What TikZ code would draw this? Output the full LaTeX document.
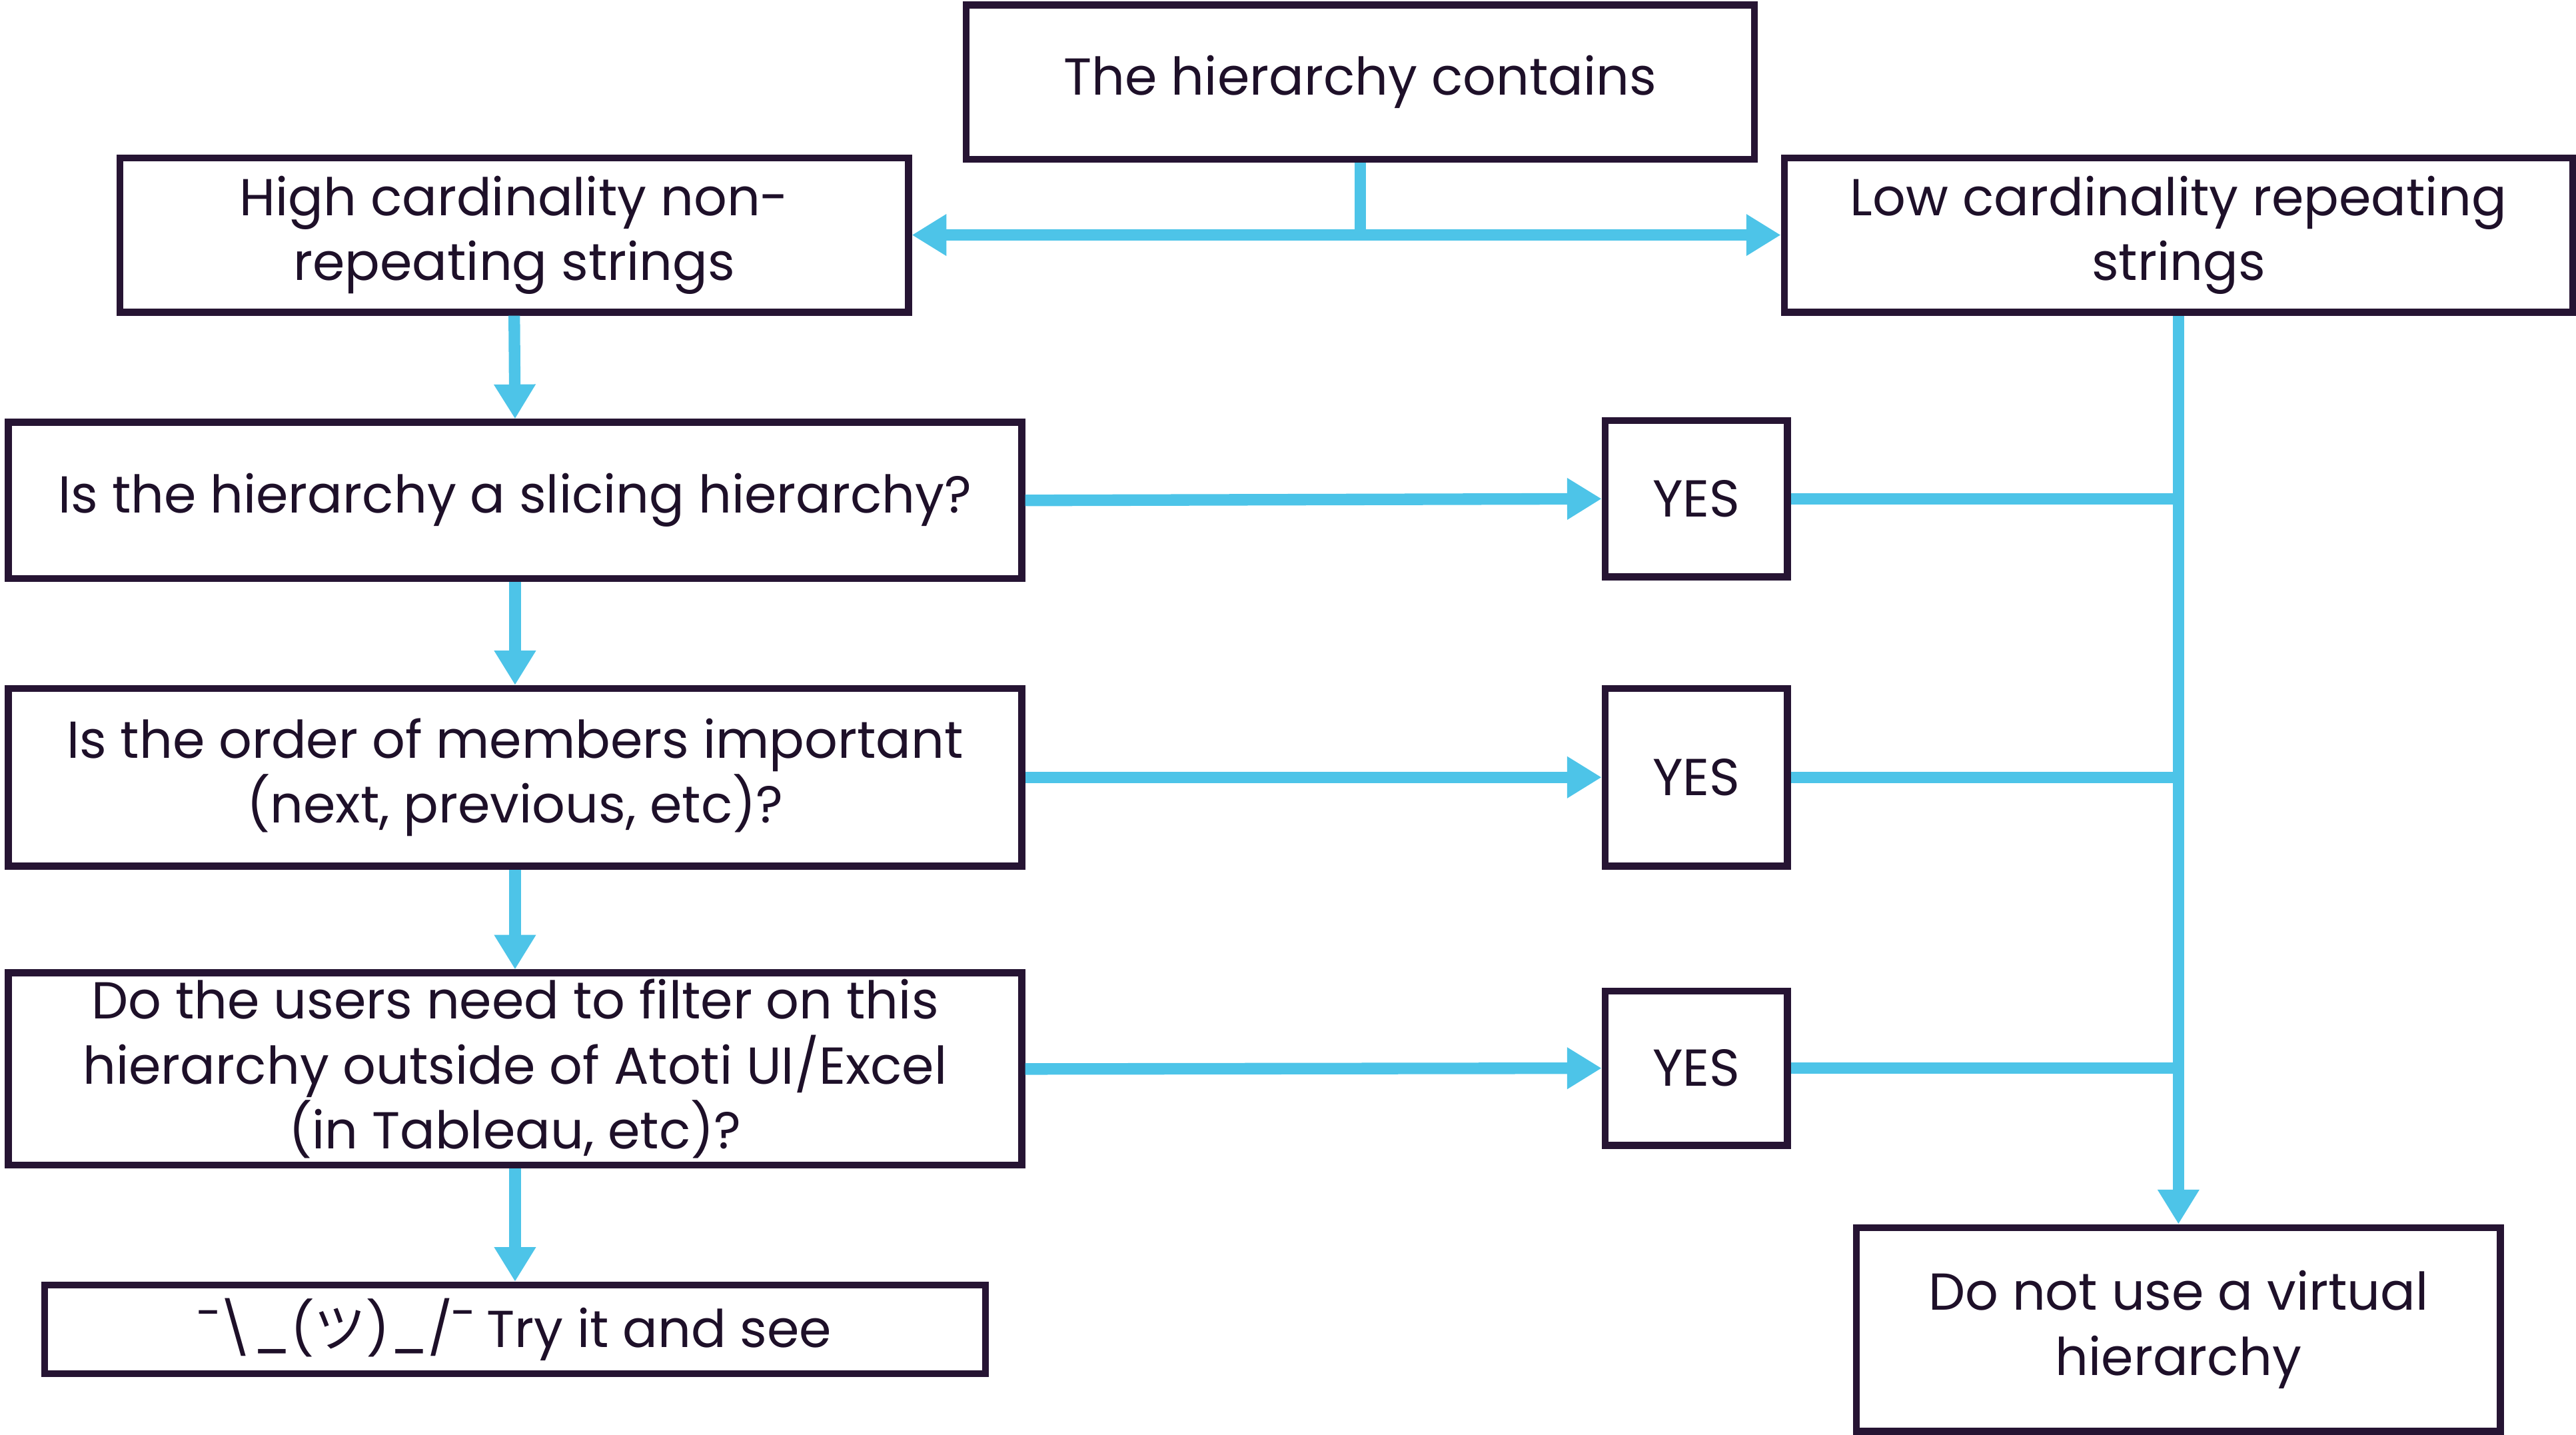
\documentclass[tikz,border=0pt]{standalone}
\usepackage{fontspec}
\setmainfont{Poppins}
\newfontfamily\cjk{Noto Sans CJK JP}
\usetikzlibrary{arrows.meta}
\definecolor{cy}{HTML}{4DC4E8}
\definecolor{bd}{HTML}{261433}
\tikzset{
 box/.style={draw=bd,line width=2.4pt,align=center,inner sep=2pt,font=\fontsize{18}{22.5}\selectfont,text=bd!80!black},
 con/.style={cy,line width=4pt},
 arr/.style={con,-{Triangle[width=0.48cm,length=0.42cm]}}
}
\begin{document}
\begin{tikzpicture}[x=0.02cm,y=-0.02cm]
\useasboundingbox (0,0) rectangle (1568,873);
\node[box,minimum width=9.6cm,minimum height=1.88cm] (top) at (828,50) {The hierarchy contains};
\node[box,minimum width=9.6cm,minimum height=1.88cm] (high) at (313,143) {High cardinality non-\\repeating strings};
\node[box,minimum width=9.6cm,minimum height=1.88cm] (low) at (1326,143) {Low cardinality repeating\\strings};
\node[box,minimum width=12.34cm,minimum height=1.9cm] (q1) at (313.5,304.5) {Is the hierarchy a slicing hierarchy?};
\node[box,minimum width=12.34cm,minimum height=2.16cm] (q2) at (313.5,473) {Is the order of members important\\(next, previous, etc)?};
\node[box,minimum width=12.34cm,minimum height=2.34cm] (q3) at (313.5,650.5) {Do the users need to filter on this\\hierarchy outside of Atoti UI/Excel\\(in Tableau, etc)?};
\node[box,minimum width=11.46cm,minimum height=1.08cm] (try) at (313.5,809) {¯\textbackslash\_({\cjk ツ})\_/¯ Try it and see};
\node[box,minimum width=2.22cm,minimum height=1.9cm] (y1) at (1032.5,303.5) {YES};
\node[box,minimum width=2.22cm,minimum height=2.16cm] (y2) at (1032.5,473) {YES};
\node[box,minimum width=2.22cm,minimum height=1.88cm] (y3) at (1032.5,650) {YES};
\node[box,minimum width=7.84cm,minimum height=2.48cm] (dn) at (1326,809) {Do not use a virtual\\hierarchy};
\coordinate (j) at (828,143);
\draw[con] (top.south) -- (j);
\draw[arr] (j) -- (high.east);
\draw[arr] (j) -- (low.west);
\draw[arr] (low.south) -- (dn.north);
\draw[arr] (high.south) -- (q1.north);
\draw[arr] (q1.south) -- (q2.north);
\draw[arr] (q2.south) -- (q3.north);
\draw[arr] (q3.south) -- (try.north);
\draw[arr] (q1.east) -- (y1.west);
\draw[arr] (q2.east) -- (y2.west);
\draw[arr] (q3.east) -- (y3.west);
\draw[con] (y1.east) -- (y1.east -| low.south);
\draw[con] (y2.east) -- (y2.east -| low.south);
\draw[con] (y3.east) -- (y3.east -| low.south);
\end{tikzpicture}
\end{document}
